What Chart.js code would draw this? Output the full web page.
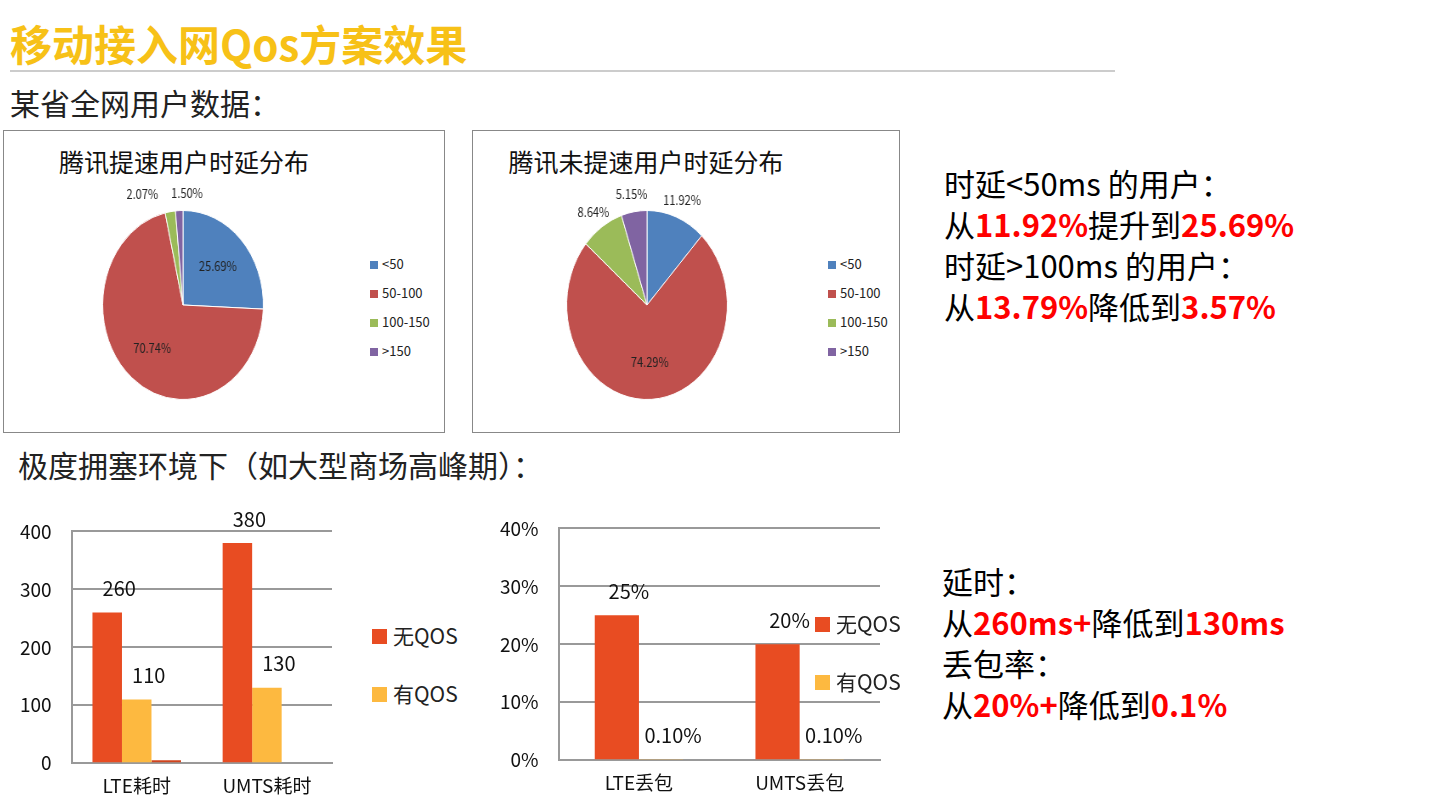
<!DOCTYPE html>
<html>
<head>
<meta charset="utf-8">
<script src="https://cdn.jsdelivr.net/npm/chart.js@4"></script>
<style>
body { margin:0; width:1435px; height:800px; background:#fff; position:relative; overflow:hidden; font-family:"Noto Sans CJK SC","Noto Sans",sans-serif; }
.abs { position:absolute; }
.title { left:10px; top:12px; font-size:42px; font-weight:bold; color:#F7C117; letter-spacing:0px; }
.line { left:10px; top:70px; width:1105px; height:2px; background:#ccc; }
.sub { font-size:30px; color:#222; }
.box { border:1px solid #888; }
.ptitle { font-size:25px; color:#111; width:100%; text-align:center; }
.note { font-size:31px; line-height:41px; color:#000; }
.note b { color:#f00; }
.leg { font-size:13px; color:#222; line-height:29px; }
.leg span { display:inline-block; width:8px; height:8px; margin-right:4px; }
.bleg { font-size:21px; color:#222; line-height:58px; }
.bleg span { display:inline-block; width:15px; height:15px; margin-right:6px; }
</style>
</head>
<body>
<div class="abs title">移动接入网Qos方案效果</div>
<div class="abs line"></div>
<div class="abs sub" style="left:10px;top:80px;">某省全网用户数据：</div>
<div class="abs sub" style="left:18px;top:442px;">极度拥塞环境下（如大型商场高峰期）：</div>

<div class="abs box" style="left:3px;top:130px;width:440px;height:301px;">
  <div class="abs ptitle" style="top:12px;left:-40px;">腾讯提速用户时延分布</div>
</div>
<div class="abs box" style="left:472px;top:130px;width:426px;height:301px;">
  <div class="abs ptitle" style="top:12px;left:-40px;">腾讯未提速用户时延分布</div>
</div>
<canvas id="pie1" class="abs" style="left:43px;top:165px;width:280px;height:280px;transform:scaleX(0.85);"></canvas>
<canvas id="pie2" class="abs" style="left:507px;top:165px;width:280px;height:280px;transform:scaleX(0.85);"></canvas>
<div class="abs leg" id="leg1" style="left:370px;top:249px;"></div>
<div class="abs leg" id="leg2" style="left:828px;top:249px;"></div>

<div class="abs note" style="left:944px;top:162px;">时延&lt;50ms 的用户：<br>从<b>11.92%</b>提升到<b>25.69%</b><br>时延&gt;100ms 的用户：<br>从<b>13.79%</b>降低到<b>3.57%</b></div>
<div class="abs note" style="left:942px;top:560px;">延时：<br>从<b>260ms+</b>降低到<b>130ms</b><br>丢包率：<br>从<b>20%+</b>降低到<b>0.1%</b></div>

<canvas id="bar1" class="abs" style="left:0;top:500px;width:340px;height:300px;"></canvas>
<canvas id="bar2" class="abs" style="left:480px;top:497px;width:410px;height:300px;"></canvas>
<div class="abs bleg" style="left:372px;top:606px;"><div><span style="background:#E84C22"></span>无QOS</div><div><span style="background:#FDB940"></span>有QOS</div></div>
<div class="abs bleg" style="left:815px;top:594px;"><div><span style="background:#E84C22"></span>无QOS</div><div><span style="background:#FDB940"></span>有QOS</div></div>

<script>
const pieLabels = ['<50', '50-100', '100-150', '>150'];
const pieColors = ['#4F81BD', '#C0504D', '#9BBB59', '#8064A2'];
const pie1Values = [25.69, 70.74, 2.07, 1.50];
const pie2Values = [11.92, 74.29, 8.64, 5.15];

const delayCats = ['LTE耗时', 'UMTS耗时'];
const delayNoQos = [260, 380];
const delayQos = [110, 130];
const delayExtra = [5, null];

const lossCats = ['LTE丢包', 'UMTS丢包'];
const lossNoQos = [25, 20];
const lossQos = [0.1, 0.1];

const RED = '#E84C22', YEL = '#FDB940';
Chart.defaults.font.family = '"Noto Sans CJK SC","Noto Sans",sans-serif';

function legendHtml(id) {
  document.getElementById(id).innerHTML = pieLabels.map(function(l, i) {
    return '<div><span style="background:' + pieColors[i] + '"></span>' + l + '</div>';
  }).join('');
}
legendHtml('leg1');
legendHtml('leg2');

const pieLabelPlugin = {
  id: 'pieLabels',
  afterDatasetsDraw(chart) {
    const ctx = chart.ctx;
    const meta = chart.getDatasetMeta(0);
    ctx.save();
    ctx.font = '13px "Noto Sans CJK SC", sans-serif';
    ctx.fillStyle = '#222';
    ctx.textAlign = 'center';
    ctx.textBaseline = 'middle';
    meta.data.forEach(function(arc, i) {
      const v = chart.data.datasets[0].data[i];
      const mid = (arc.startAngle + arc.endAngle) / 2;
      const r = v > 20 ? arc.outerRadius * 0.6 : arc.outerRadius + 18;
      let x = arc.x + Math.cos(mid) * r;
      const y = arc.y + Math.sin(mid) * r;
      if (v <= 20 && v < 3) x += (i == 2 ? -30 : 10);
      ctx.fillText(v.toFixed(2) + '%', x, y);
    });
    ctx.restore();
  }
};

function makePie(id, values) {
  new Chart(document.getElementById(id), {
    type: 'pie',
    data: { labels: pieLabels, datasets: [{ data: values, backgroundColor: pieColors, borderColor: '#fff', borderWidth: 1 }] },
    options: {
      responsive: false, animation: false,
      layout: { padding: 45 },
      plugins: { legend: { display: false }, tooltip: { enabled: false } }
    },
    plugins: [pieLabelPlugin]
  });
}
makePie('pie1', pie1Values);
makePie('pie2', pie2Values);

function barLabelPlugin(fmt) {
  return {
    id: 'barLabels',
    afterDatasetsDraw(chart) {
      const ctx = chart.ctx;
      ctx.save();
      ctx.font = '20px "Noto Sans CJK SC", sans-serif';
      ctx.fillStyle = '#111';
      ctx.textAlign = 'center';
      ctx.textBaseline = 'bottom';
      [0, 1].forEach(function(d) {
        chart.getDatasetMeta(d).data.forEach(function(bar, i) {
          const v = chart.data.datasets[d].data[i];
          ctx.fillText(fmt(v), bar.x + 12, bar.y - 14);
        });
      });
      ctx.restore();
    }
  };
}

const axisCommon = {
  ticks: { color: '#111', font: { size: 19 } },
  grid: { color: '#999', lineWidth: 2, drawTicks: false },
  border: { color: '#999', width: 2 }
};

new Chart(document.getElementById('bar1'), {
  type: 'bar',
  data: {
    labels: delayCats,
    datasets: [
      { label: '无QOS', data: delayNoQos, backgroundColor: RED },
      { label: '有QOS', data: delayQos, backgroundColor: YEL },
      { label: '', data: delayExtra, backgroundColor: '#D0441E' }
    ]
  },
  options: {
    responsive: false, animation: false,
    layout: { padding: { top: 14, right: 8 } },
    datasets: { bar: { categoryPercentage: 0.68, barPercentage: 1 } },
    scales: {
      x: { ticks: { color: '#111', font: { size: 19 } }, grid: { display: false, drawTicks: true }, border: { color: '#999', width: 2 } },
      y: Object.assign({}, axisCommon, { min: 0, max: 400, ticks: { color: '#111', font: { size: 19 }, stepSize: 100, padding: 20 } })
    },
    plugins: { legend: { display: false }, tooltip: { enabled: false } }
  },
  plugins: [barLabelPlugin(function(v) { return String(v); })]
});

new Chart(document.getElementById('bar2'), {
  type: 'bar',
  data: {
    labels: lossCats,
    datasets: [
      { label: '无QOS', data: lossNoQos, backgroundColor: RED },
      { label: '有QOS', data: lossQos, backgroundColor: YEL }
    ]
  },
  options: {
    responsive: false, animation: false,
    layout: { padding: { top: 14, right: 10 } },
    datasets: { bar: { categoryPercentage: 0.55, barPercentage: 1 } },
    scales: {
      x: { ticks: { color: '#111', font: { size: 19 } }, grid: { display: false }, border: { color: '#999', width: 2 } },
      y: Object.assign({}, axisCommon, { min: 0, max: 40, ticks: { color: '#111', font: { size: 19 }, stepSize: 10, padding: 20, callback: function(v) { return v + '%'; } } })
    },
    plugins: { legend: { display: false }, tooltip: { enabled: false } }
  },
  plugins: [barLabelPlugin(function(v) { return v < 1 ? v.toFixed(2) + '%' : v + '%'; })]
});
</script>
</body>
</html>
